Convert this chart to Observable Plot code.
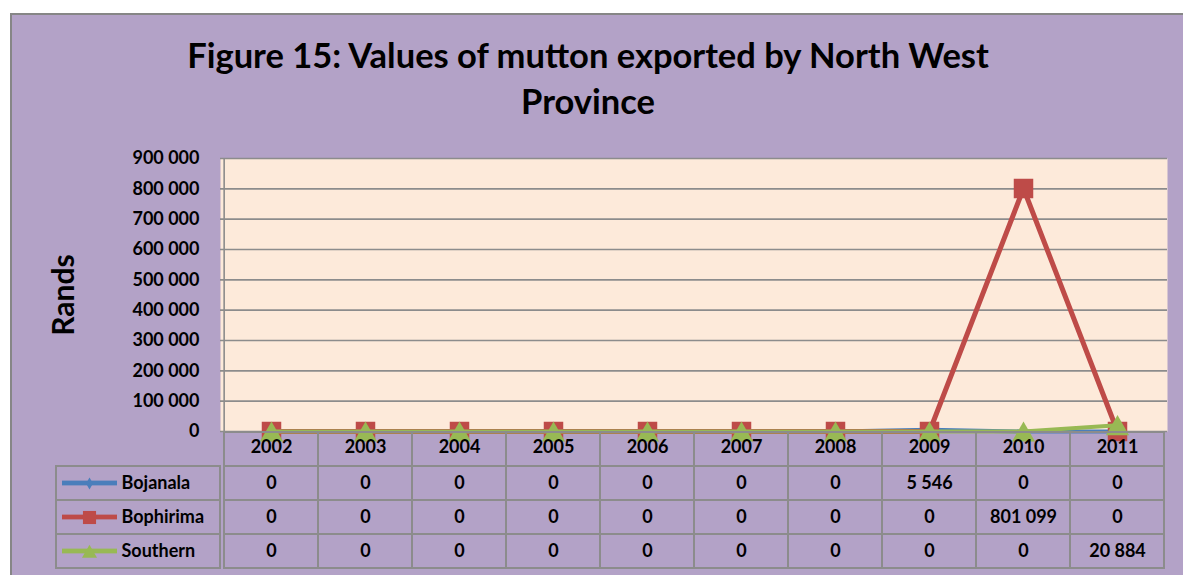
<!DOCTYPE html>
<html>
<head>
<meta charset="utf-8">
<script src="https://cdn.jsdelivr.net/npm/d3@7"></script>
<script src="https://cdn.jsdelivr.net/npm/@observablehq/plot@0.6"></script>
<style>
  html, body { margin: 0; padding: 0; background: #fff; }
  #wrap { position: relative; width: 1183px; height: 575px; overflow: hidden; font-family: Lato, "Open Sans", sans-serif; }
  #panel { position: absolute; left: 10px; top: 13px; width: 1200px; height: 600px; background: #b3a2c7; border-top: 2px solid #868686; border-left: 2px solid #868686; }
  #title { position: absolute; left: 0; top: 32px; width: 1176px; text-align: center; font-weight: bold; font-size: 34.5px; line-height: 46px; color: #000; }
  #chart, #table { position: absolute; left: 0; }
  #chart { top: 0; }
  #table { top: 431px; }
</style>
</head>
<body>
<div id="wrap">
  <div id="panel"></div>
  <div id="title">Figure 15: Values of mutton exported by North West<br>Province</div>
  <div id="chart"></div>
  <div id="table"></div>
</div>
<script>
const years = [2002, 2003, 2004, 2005, 2006, 2007, 2008, 2009, 2010, 2011];
const seriesNames = ["Bojanala", "Bophirima", "Southern"];
const bojanala  = [0, 0, 0, 0, 0, 0, 0, 5546, 0, 0];
const bophirima = [0, 0, 0, 0, 0, 0, 0, 0, 801099, 0];
const southern  = [0, 0, 0, 0, 0, 0, 0, 0, 0, 20884];
const yTicks = [0, 100000, 200000, 300000, 400000, 500000, 600000, 700000, 800000, 900000];

const seriesValues = {Bojanala: bojanala, Bophirima: bophirima, Southern: southern};
const colors = {Bojanala: "#4a7ebb", Bophirima: "#be4b48", Southern: "#98b954"};
const symbols = {Bojanala: "diamond", Bophirima: "square", Southern: "triangle"};
const chartR = {Bojanala: 4.5, Bophirima: 11, Southern: 8.6};
const chartDy = {Bojanala: 0, Bophirima: 0, Southern: 3.3};
const legendR = {Bojanala: 3.6, Bophirima: 7.4, Southern: 5.6};
const legendDy = {Bojanala: 0, Bophirima: 0, Southern: 2};
const lineW = {Bojanala: 4, Bophirima: 5, Southern: 4};

const rows = seriesNames.flatMap(s => years.map((yr, i) => ({series: s, year: yr, value: seriesValues[s][i]})));
const fmt = v => d3.format(",")(v).replace(/,/g, " ");

const W = 1183, ML = 220, MR = 16;
const frameW = W - ML - MR;
const colW = frameW / years.length;
const font = {background: "transparent", fontFamily: "Lato, 'Open Sans', sans-serif", fontSize: "18px", fontWeight: "bold", color: "#000", overflow: "visible"};

const seriesMarks = seriesNames.flatMap(s => {
  const d = rows.filter(r => r.series === s);
  return [
    Plot.line(d, {x: "year", y: "value", stroke: colors[s], strokeWidth: lineW[s]}),
    Plot.dot(d, {x: "year", y: "value", symbol: symbols[s], r: chartR[s], dy: chartDy[s], fill: colors[s], stroke: "none"})
  ];
});

const chart = Plot.plot({
  width: W, height: 436,
  marginTop: 158, marginBottom: 5, marginLeft: ML, marginRight: MR,
  style: font,
  x: {type: "point", domain: years, padding: 0.5, axis: null},
  y: {domain: [0, 900000], ticks: yTicks, tickFormat: fmt, tickSize: 0, tickPadding: 21, label: null},
  marks: [
    Plot.frame({fill: "#fdeada"}),
    Plot.ruleY(yTicks, {stroke: "#8c8c8c", strokeWidth: 1.6}),
    Plot.ruleX([years[0]], {dx: -colW / 2, stroke: "#8c8c8c", strokeWidth: 1.6}),
    Plot.text(["Rands"], {frameAnchor: "left", dx: -156, rotate: -90, textAnchor: "middle", text: d => d, fontSize: 30, fontWeight: "bold", fill: "#000"}),
    ...seriesMarks
  ]
});
document.getElementById("chart").appendChild(chart);

const rowDomain = ["year", ...seriesNames];
const tH = 140, tMB = 3;
const bw = (tH - tMB) / rowDomain.length;
const cellsAll = rowDomain.flatMap(r => years.map(yr => ({row: r, year: yr})));

const legendMarks = seriesNames.flatMap(s => [
  Plot.cell([s], {y: d => d, insetLeft: -158, insetRight: frameW + 103, insetTop: bw / 2 - 2.5, insetBottom: bw / 2 - 2.5, fill: colors[s]}),
  Plot.dot([s], {y: d => d, frameAnchor: "left", dx: -131, dy: legendDy[s], symbol: symbols[s], r: legendR[s], fill: colors[s], stroke: "none"})
]);

const table = Plot.plot({
  width: W, height: tH,
  marginTop: 0, marginBottom: tMB, marginLeft: ML, marginRight: MR,
  style: font,
  x: {type: "band", domain: years, padding: 0, axis: null},
  y: {type: "band", domain: rowDomain, padding: 0, axis: null},
  marks: [
    Plot.cell(cellsAll, {x: "year", y: "row", fill: "none", stroke: "#8c8c8c", strokeWidth: 2}),
    Plot.cell(seriesNames, {y: d => d, insetLeft: -164, insetRight: frameW, fill: "none", stroke: "#8c8c8c", strokeWidth: 2}),
    Plot.text(years, {x: d => d, y: () => "year", dy: -2, text: d => String(d), fill: "#000"}),
    Plot.text(rows, {x: "year", y: "series", text: d => fmt(d.value), fill: "#000"}),
    ...legendMarks,
    Plot.text(seriesNames, {y: d => d, frameAnchor: "left", dx: -99, textAnchor: "start", text: d => d, fill: "#000"})
  ]
});
document.getElementById("table").appendChild(table);
</script>
</body>
</html>
